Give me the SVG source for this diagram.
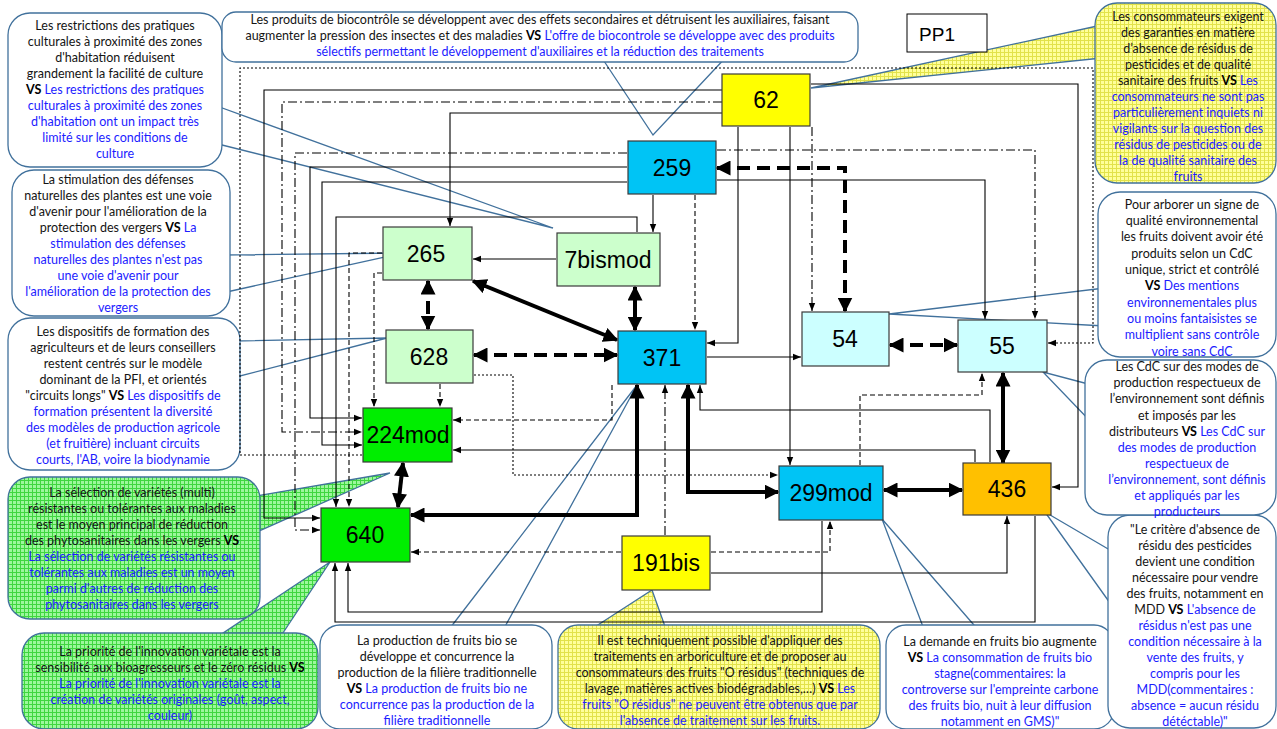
<svg xmlns="http://www.w3.org/2000/svg" width="1277" height="729" viewBox="0 0 1277 729">
<style>
.nd{stroke:#3a3a3a;stroke-width:1.2}
.nl{font-family:"Liberation Sans",Arial,sans-serif;font-size:23px;text-anchor:middle;fill:#000}
.co{fill:#fff;stroke:#41719c;stroke-width:1.3}
.cg{fill:url(#pg);stroke:#41719c;stroke-width:1.3}
.cy{fill:url(#py);stroke:#41719c;stroke-width:1.3}
.ct{font-family:Lato,"Liberation Sans",sans-serif;font-size:12.5px;text-anchor:middle;fill:#141414}
.bl{fill:#1c1cff}
.b{font-weight:bold;fill:#000}
.ln{fill:none;stroke:#000;stroke-width:1.1;marker-end:url(#a)}
.da{stroke-dasharray:5 3}
.dd{stroke-dasharray:9 3 2 3}
.dt{stroke-dasharray:2 2}
.tk{fill:none;stroke:#000;stroke-width:4;marker-start:url(#A);marker-end:url(#A)}
.tkd{stroke-dasharray:13 7}
</style>
<defs>
<marker id="a" viewBox="0 0 10 10" refX="10" refY="5" markerWidth="8" markerHeight="8" markerUnits="userSpaceOnUse" orient="auto-start-reverse"><path d="M0,1 L10,5 L0,9 z" fill="#000"/></marker>
<marker id="A" viewBox="0 0 10 10" refX="9" refY="5" markerWidth="15" markerHeight="15" markerUnits="userSpaceOnUse" orient="auto-start-reverse"><path d="M0,0 L10,5 L0,10 z" fill="#000"/></marker>
<pattern id="pg" width="4" height="4" patternUnits="userSpaceOnUse"><rect width="4" height="4" fill="#9cf79c"/><path d="M0,0.5H4M0.5,0V4" stroke="#3fd63f" stroke-width="1"/></pattern>
<pattern id="py" width="4" height="4" patternUnits="userSpaceOnUse"><rect width="4" height="4" fill="#ffff9a"/><path d="M0,0.5H4M0.5,0V4" stroke="#e2e24a" stroke-width="1"/></pattern>
</defs>
<rect width="1277" height="729" fill="#fff"/>

<!-- callouts -->
<g id="c-restrictions">
<path class="co" d="M214,105 L553,228 L214,143"/>
<rect class="co" x="8" y="13" width="214" height="154" rx="22"/>
<text class="ct"><tspan x="115" y="30">Les restrictions des pratiques</tspan><tspan x="115" y="46">culturales à proximité des zones</tspan><tspan x="115" y="62">d'habitation réduisent</tspan><tspan x="115" y="78">grandement la facilité de culture</tspan><tspan x="115" y="94"><tspan class="b">VS</tspan><tspan class="bl"> Les restrictions des pratiques</tspan></tspan><tspan class="bl" x="115" y="110">culturales à proximité des zones</tspan><tspan class="bl" x="115" y="126">d'habitation ont un impact très</tspan><tspan class="bl" x="115" y="142">limité sur les conditions de</tspan><tspan class="bl" x="115" y="158">culture</tspan></text>
</g>
<g id="c-biocontrole">
<path class="co" d="M600,55 L653,135 L728,55"/>
<rect class="co" x="222" y="12" width="636" height="50" rx="14"/>
<text class="ct"><tspan x="540" y="24">Les produits de biocontrôle se développent avec des effets secondaires et détruisent les auxiliaires, faisant</tspan><tspan x="540" y="40">augmenter la pression des insectes et des maladies <tspan class="b">VS</tspan><tspan class="bl"> L'offre de biocontrole se développe avec des produits</tspan></tspan><tspan class="bl" x="540" y="56">sélectifs permettant le développement d'auxiliaires et la réduction des traitements</tspan></text>
</g>
<g id="c-stimulation">
<path class="co" d="M222,255 L403,253 L222,293"/>
<rect class="co" x="12" y="170" width="218" height="146" rx="22"/>
<text class="ct"><tspan x="118" y="184">La stimulation des défenses</tspan><tspan x="118" y="200">naturelles des plantes est une voie</tspan><tspan x="118" y="216">d'avenir pour l'amélioration de la</tspan><tspan x="118" y="232">protection des vergers <tspan class="b">VS</tspan><tspan class="bl"> La</tspan></tspan><tspan class="bl" x="118" y="248">stimulation des défenses</tspan><tspan class="bl" x="118" y="264">naturelles des plantes n'est pas</tspan><tspan class="bl" x="118" y="280">une voie d'avenir pour</tspan><tspan class="bl" x="118" y="296">l'amélioration de la protection des</tspan><tspan class="bl" x="118" y="312">vergers</tspan></text>
</g>
<g id="c-formation">
<path class="co" d="M232,341 L387,338 L232,378"/>
<rect class="co" x="8" y="318" width="232" height="152" rx="22"/>
<text class="ct"><tspan x="123" y="336">Les dispositifs de formation des</tspan><tspan x="123" y="352">agriculteurs et de leurs conseillers</tspan><tspan x="123" y="368">restent centrés sur le modèle</tspan><tspan x="123" y="384">dominant de la PFI, et orientés</tspan><tspan x="123" y="400">"circuits longs" <tspan class="b">VS</tspan><tspan class="bl"> Les dispositifs de</tspan></tspan><tspan class="bl" x="123" y="416">formation présentent la diversité</tspan><tspan class="bl" x="123" y="432">des modèles de production agricole</tspan><tspan class="bl" x="123" y="448">(et fruitière) incluant circuits</tspan><tspan class="bl" x="123" y="464">courts, l'AB, voire la biodynamie</tspan></text>
</g>
<g id="c-selection">
<path class="cg" d="M250,497 L390,473 L250,535"/>
<rect class="cg" x="8" y="477" width="252" height="142" rx="22"/>
<text class="ct"><tspan x="132" y="497">La sélection de variétés (multi)</tspan><tspan x="132" y="513">résistantes ou tolérantes aux maladies</tspan><tspan x="132" y="529">est le moyen principal de réduction</tspan><tspan x="132" y="545">des phytosanitaires dans les vergers <tspan class="b">VS</tspan></tspan><tspan class="bl" x="132" y="561">La sélection de variétés résistantes ou</tspan><tspan class="bl" x="132" y="577">tolérantes aux maladies est un moyen</tspan><tspan class="bl" x="132" y="593">parmi d'autres de réduction des</tspan><tspan class="bl" x="132" y="609">phytosanitaires dans les vergers</tspan></text>
</g>
<g id="c-priorite">
<path class="cg" d="M205,645 L330,562 L275,645"/>
<rect class="cg" x="22" y="633" width="296" height="96" rx="22"/>
<text class="ct"><tspan x="170" y="656">La priorité de l'innovation variétale est la</tspan><tspan x="170" y="672">sensibilité aux bioagresseurs et le zéro résidus <tspan class="b">VS</tspan></tspan><tspan class="bl" x="170" y="688">La priorité de l'innovation variétale est la</tspan><tspan class="bl" x="170" y="704">création de variétés originales (goût, aspect,</tspan><tspan class="bl" x="170" y="720">couleur)</tspan></text>
</g>
<g id="c-bio">
<path class="co" d="M447,632 L637,385 L502,632"/>
<rect class="co" x="320" y="625" width="232" height="104" rx="20"/>
<text class="ct"><tspan x="437" y="645">La production de fruits bio se</tspan><tspan x="437" y="661">développe et concurrence la</tspan><tspan x="437" y="677">production de la filière traditionnelle</tspan><tspan x="437" y="693"><tspan class="b">VS</tspan><tspan class="bl"> La production de fruits bio ne</tspan></tspan><tspan class="bl" x="437" y="709">concurrence pas la production de la</tspan><tspan class="bl" x="437" y="725">filière traditionnelle</tspan></text>
</g>
<g id="c-zero-residus">
<path class="cy" d="M587,632 L652,590 L667,632"/>
<rect class="cy" x="558" y="625" width="322" height="104" rx="20"/>
<text class="ct"><tspan x="720" y="645">Il est techniquement possible d'appliquer des</tspan><tspan x="720" y="661">traitements en arboriculture et de proposer au</tspan><tspan x="720" y="677">consommateurs des fruits "O résidus" (techniques de</tspan><tspan x="720" y="693">lavage, matières actives biodégradables,…) <tspan class="b">VS</tspan><tspan class="bl"> Les</tspan></tspan><tspan class="bl" x="720" y="709">fruits "O résidus" ne peuvent être obtenus que par</tspan><tspan class="bl" x="720" y="725">l'absence de traitement sur les fruits.</tspan></text>
</g>
<g id="c-demande">
<path class="co" d="M925,632 L882,519 L980,632"/>
<rect class="co" x="886" y="625" width="228" height="104" rx="20"/>
<text class="ct"><tspan x="1000" y="646">La demande en fruits bio augmente</tspan><tspan x="1000" y="662"><tspan class="b">VS</tspan><tspan class="bl"> La consommation de fruits bio</tspan></tspan><tspan class="bl" x="1000" y="678">stagne(commentaires: la</tspan><tspan class="bl" x="1000" y="694">controverse sur l'empreinte carbone</tspan><tspan class="bl" x="1000" y="710">des fruits bio, nuit à leur diffusion</tspan><tspan class="bl" x="1000" y="726">notamment en GMS)"</tspan></text>
</g>
<g id="c-critere">
<path class="co" d="M1115,553 L1045,512 L1115,610"/>
<rect class="co" x="1108" y="515" width="168" height="213" rx="22"/>
<text class="ct"><tspan x="1195" y="534">"Le critère d'absence de</tspan><tspan x="1195" y="550">résidu des pesticides</tspan><tspan x="1195" y="566">devient une condition</tspan><tspan x="1195" y="582">nécessaire pour vendre</tspan><tspan x="1195" y="598">des fruits, notamment en</tspan><tspan x="1195" y="614">MDD <tspan class="b">VS</tspan><tspan class="bl"> L'absence de</tspan></tspan><tspan class="bl" x="1195" y="630">résidus n'est pas une</tspan><tspan class="bl" x="1195" y="646">condition nécessaire à la</tspan><tspan class="bl" x="1195" y="662">vente des fruits, y</tspan><tspan class="bl" x="1195" y="678">compris pour les</tspan><tspan class="bl" x="1195" y="694">MDD(commentaires :</tspan><tspan class="bl" x="1195" y="710">absence = aucun résidu</tspan><tspan class="bl" x="1195" y="726">détéctable)"</tspan></text>
</g>
<g id="c-consommateurs">
<path class="cy" d="M1102,25 L811,88 L1102,58"/>
<rect class="cy" x="1095" y="3" width="181" height="180" rx="22"/>
<text class="ct"><tspan x="1188" y="21">Les consommateurs exigent</tspan><tspan x="1188" y="37">des garanties en matière</tspan><tspan x="1188" y="53">d’absence de résidus de</tspan><tspan x="1188" y="69">pesticides et de qualité</tspan><tspan x="1188" y="85">sanitaire des fruits <tspan class="b">VS</tspan><tspan class="bl"> Les</tspan></tspan><tspan class="bl" x="1188" y="101">consommateurs ne sont pas</tspan><tspan class="bl" x="1188" y="117">particulièrement inquiets ni</tspan><tspan class="bl" x="1188" y="133">vigilants sur la question des</tspan><tspan class="bl" x="1188" y="149">résidus de pesticides ou de</tspan><tspan class="bl" x="1188" y="165">la de qualité sanitaire des</tspan><tspan class="bl" x="1188" y="181">fruits</tspan></text>
</g>
<g id="c-signe">
<path class="co" d="M1105,288 L889,314 L1105,326"/>
<rect class="co" x="1098" y="192" width="178" height="165" rx="22"/>
<text class="ct"><tspan x="1192" y="209">Pour arborer un signe de</tspan><tspan x="1192" y="225">qualité environnemental</tspan><tspan x="1192" y="241">les fruits doivent avoir été</tspan><tspan x="1192" y="258">produits selon un CdC</tspan><tspan x="1192" y="274">unique, strict et contrôlé</tspan><tspan x="1192" y="290"><tspan class="b">VS</tspan><tspan class="bl"> Des mentions</tspan></tspan><tspan class="bl" x="1192" y="307">environnementales plus</tspan><tspan class="bl" x="1192" y="323">ou moins fantaisistes se</tspan><tspan class="bl" x="1192" y="339">multiplient sans contrôle</tspan><tspan class="bl" x="1192" y="356">voire sans CdC</tspan></text>
</g>
<g id="c-cdc">
<path class="co" d="M1092,385 L1043,372 L1092,423"/>
<rect class="co" x="1085" y="360" width="191" height="155" rx="22"/>
<text class="ct"><tspan x="1187" y="371">Les CdC sur des modes de</tspan><tspan x="1187" y="387">production respectueux de</tspan><tspan x="1187" y="403">l’environnement sont définis</tspan><tspan x="1187" y="420">et imposés par les</tspan><tspan x="1187" y="436">distributeurs  <tspan class="b">VS</tspan><tspan class="bl"> Les CdC sur</tspan></tspan><tspan class="bl" x="1187" y="452">des modes de production</tspan><tspan class="bl" x="1187" y="468">respectueux de</tspan><tspan class="bl" x="1187" y="484">l’environnement,  sont définis</tspan><tspan class="bl" x="1187" y="500">et appliqués par les</tspan><tspan class="bl" x="1187" y="516">producteurs</tspan></text>
</g>

<!-- connectors -->
<g id="connectors">
<path class="ln" d="M722,90 H264 V518 H320"/>
<path class="ln" d="M722,113 H450 V226"/>
<path class="ln" d="M627,167 H310 V418 H362"/>
<path class="ln" d="M627,182 H322 V445 H362"/>
<path class="ln" d="M637,232 V217 H336 V507"/>
<path class="ln" d="M556,259 H473"/>
<path class="ln" d="M653,195 V232"/>
<path class="ln" d="M707,357 H801"/>
<path class="ln" d="M738,127 V343 H707"/>
<path class="ln" d="M790,127 V465"/>
<path class="ln" d="M975,462 V450 H453"/>
<path class="ln" d="M990,462 V410 H700 V385"/>
<path class="ln" d="M711,573 H1007 V516"/>
<path class="ln" d="M822,521 V612 H348 V563"/>
<path class="ln" d="M1035,516 V622 H335 V563"/>
<path class="ln" d="M717,180 H985 V319"/>
<path class="ln" d="M811,84 H1078 V487 H1052"/>
<path class="ln da" d="M382,253 H349 V507"/>
<path class="ln da" d="M382,273 H374 V407"/>
<path class="ln da" d="M440,384 V407"/>
<path class="ln da" d="M612,385 V420 H453"/>
<path class="ln da" d="M621,552 H411"/>
<path class="ln da" d="M711,552 H830 V521"/>
<path class="ln da" d="M860,465 V395 H982 V373"/>
<path class="ln da" d="M695,195 V330"/>
<path class="ln dd" d="M722,102 H282 V432 H362"/>
<path class="ln dd" d="M627,153 H295 V530 H320"/>
<path class="ln dd" d="M812,127 V311"/>
<path class="ln dd" d="M665,535 V385"/>
<path class="ln dd" d="M717,150 H1035 V319"/>
<path class="ln dt" d="M362,455 H240 V68 H1093 V343 H1048"/>
<path class="ln dt" d="M474,375 H513 V475 H778"/>
<path class="tk tkd" d="M428,281 V329"/>
<path class="tk" d="M473,281 L617,340"/>
<path class="tk" d="M635,287 V330"/>
<path class="tk tkd" d="M474,355 H617"/>
<path class="tk" d="M403,463 L398,507"/>
<path class="tk" d="M411,515 H637 V385"/>
<path class="tk" d="M688,385 V492 H778"/>
<path class="tk" d="M884,490 H962"/>
<path class="tk" d="M1003,463 V373"/>
<path class="tk tkd" d="M717,168 H845 V311"/>
<path class="tk tkd" d="M890,345 H957"/>
</g>

<!-- nodes -->
<g id="pp1"><rect x="907" y="14" width="80" height="38" fill="#fff" stroke="#000" stroke-width="1"/><text x="937" y="41" font-family="Liberation Sans,Arial,sans-serif" font-size="19" text-anchor="middle">PP1</text></g>
<g id="n62"><rect class="nd" x="722" y="74" width="88" height="52" fill="#ffff00"/><text class="nl" x="766" y="108">62</text></g>
<g id="n259"><rect class="nd" x="628" y="141" width="88" height="53" fill="#00c4f5"/><text class="nl" x="672" y="176">259</text></g>
<g id="n265"><rect class="nd" x="383" y="227" width="89" height="53" fill="#ccffcc"/><text class="nl" x="426" y="262">265</text></g>
<g id="n7bismod"><rect class="nd" x="557" y="233" width="103" height="53" fill="#ccffcc"/><text class="nl" x="608" y="268">7bismod</text></g>
<g id="n628"><rect class="nd" x="386" y="330" width="87" height="53" fill="#ccffcc"/><text class="nl" x="429" y="365">628</text></g>
<g id="n371"><rect class="nd" x="618" y="331" width="88" height="53" fill="#00c4f5"/><text class="nl" x="662" y="366">371</text></g>
<g id="n54"><rect class="nd" x="802" y="312" width="87" height="54" fill="#ccffff"/><text class="nl" x="845" y="347">54</text></g>
<g id="n55"><rect class="nd" x="958" y="320" width="89" height="52" fill="#ccffff"/><text class="nl" x="1002" y="354">55</text></g>
<g id="n224mod"><rect class="nd" x="363" y="408" width="89" height="54" fill="#00ee00"/><text class="nl" x="408" y="443">224mod</text></g>
<g id="n640"><rect class="nd" x="321" y="508" width="89" height="54" fill="#00ee00"/><text class="nl" x="365" y="543">640</text></g>
<g id="n299mod"><rect class="nd" x="779" y="466" width="104" height="54" fill="#00c4f5"/><text class="nl" x="831" y="501">299mod</text></g>
<g id="n436"><rect class="nd" x="963" y="463" width="88" height="52" fill="#ffc000"/><text class="nl" x="1007" y="497">436</text></g>
<g id="n191bis"><rect class="nd" x="622" y="536" width="88" height="54" fill="#ffff00"/><text class="nl" x="666" y="571">191bis</text></g>
</svg>
